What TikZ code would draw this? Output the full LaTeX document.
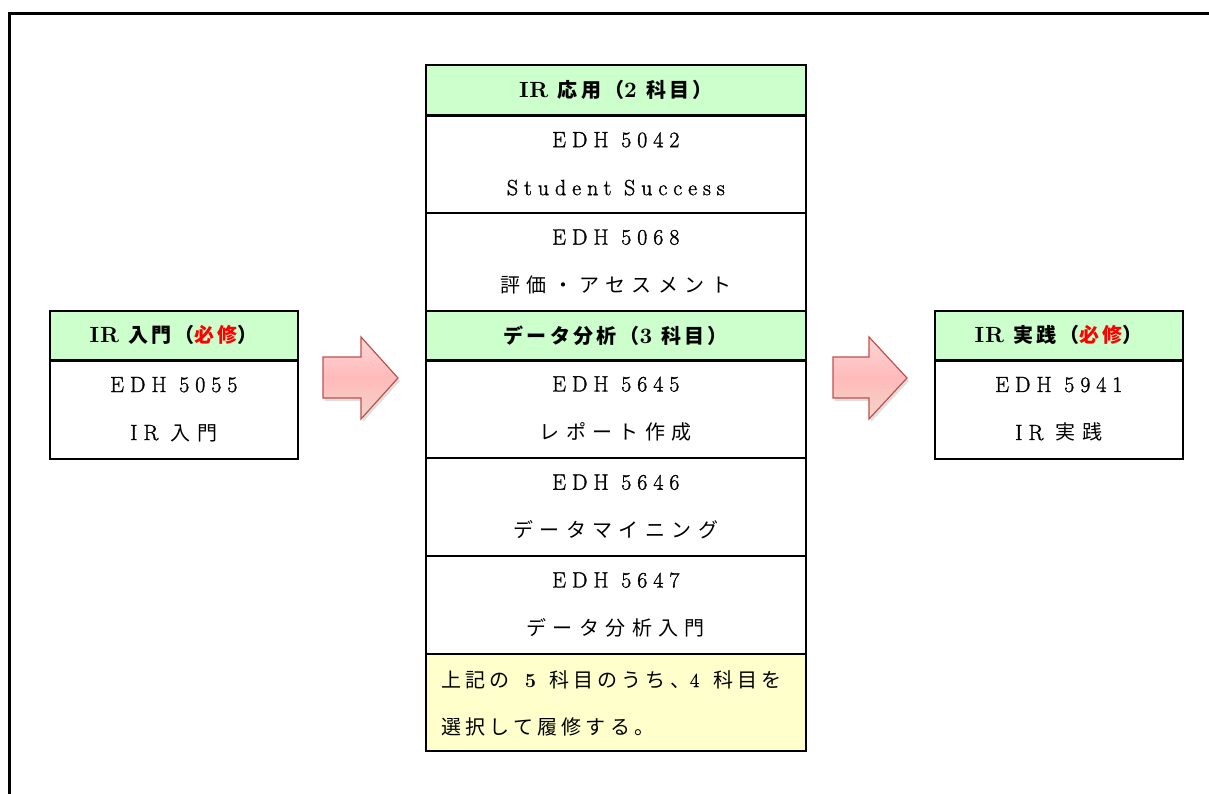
\documentclass[tikz,border=0pt]{standalone}
\usepackage{fontspec}
\setmainfont{Latin Modern Roman}
\newfontfamily\lmc{Latin Modern Roman}[LetterSpace=27,FakeBold=1.5]
\newfontfamily\lmn{Latin Modern Roman}[FakeBold=1.2]
\newfontfamily\lmhb{lmroman10-bold.otf}[LetterSpace=4]
\newfontfamily\jp{Noto Sans CJK JP}[LetterSpace=32]
\newfontfamily\jph{Noto Sans CJK JP}[LetterSpace=16]
\newfontfamily\jpt{Noto Sans CJK JP}[LetterSpace=21]
\usetikzlibrary{shadows}
\definecolor{hdrgreen}{RGB}{204,255,204}
\definecolor{noteyellow}{RGB}{255,255,204}
\definecolor{reqred}{RGB}{255,0,0}
\definecolor{arrowborder}{RGB}{192,80,77}
\definecolor{arrowtop}{RGB}{255,214,214}
\definecolor{arrowmid}{RGB}{255,186,186}
\definecolor{arrowbot}{RGB}{240,214,200}
\newcommand{\hj}[1]{{\jph\fontsize{20}{24}\selectfont #1}}
\newcommand{\cj}[1]{{\jp\fontsize{20}{48}\selectfont #1}}
\begin{document}
\begin{tikzpicture}[x=1pt,y=-1pt,
  cellbox/.style={draw=black, line width=1.6pt, inner sep=0pt, anchor=north west, align=center,
    font=\fontsize{22}{48}\selectfont\lmc},
  hdrbox/.style={cellbox, fill=hdrgreen, font=\fontsize{22}{24}\selectfont\lmhb\bfseries},
  notebox/.style={cellbox, fill=noteyellow},
  notetext/.style={anchor=west, align=left, inner sep=0pt, font=\fontsize{20}{47}\selectfont},
  hdrline/.style={line width=3pt},
  blockarrow/.style={draw=arrowborder, line width=1.2pt, top color=arrowtop, bottom color=arrowbot, middle color=arrowmid,
    drop shadow={shadow xshift=2pt, shadow yshift=-3pt, opacity=0.25}}]
\useasboundingbox (0,0) rectangle (1209,794);
\draw[line width=3pt] (9,800) -- (9,14) -- (1212,14);

% left box
\node[hdrbox, minimum width=248pt, minimum height=49pt] (lh) at (49,310) {IR \hj{入門（\textcolor{reqred}{必修}）}};
\node[cellbox, minimum width=248pt, minimum height=99pt] (lb) at (49,359) {EDH 5055\\IR \cj{入門}};
\draw[hdrline] (lh.south west) -- (lh.south east);

% center column
\node[hdrbox, minimum width=380pt, minimum height=50pt] (ch1) at (425,64) {IR \hj{応用（}2 \hj{科目）}};
\node[cellbox, minimum width=380pt, minimum height=98pt] (c1) at (425,114) {EDH 5042\\Student Success};
\node[cellbox, minimum width=380pt, minimum height=98pt] (c2) at (425,212) {EDH 5068\\\cj{評価・アセスメント}};
\node[hdrbox, minimum width=380pt, minimum height=49pt] (ch2) at (425,310) {\hj{データ分析（}3 \hj{科目）}};
\node[cellbox, minimum width=380pt, minimum height=98pt] (c3) at (425,359) {EDH 5645\\\cj{レポート作成}};
\node[cellbox, minimum width=380pt, minimum height=98pt] (c4) at (425,457) {EDH 5646\\\cj{データマイニング}};
\node[cellbox, minimum width=380pt, minimum height=98pt] (c5) at (425,555) {EDH 5647\\\cj{データ分析入門}};
\node[notebox, minimum width=380pt, minimum height=97pt] (cn) at (425,653) {};
\node[notetext] (cnt) at (441,703) {{\jpt 上記の}\hspace{11pt}\textbf{5}\hspace{13pt}{\jpt 科目のうち、}{\lmn 4}\hspace{14pt}{\jpt 科目を}\\{\jpt 選択して履修する。}};
\draw[hdrline] (ch1.south west) -- (ch1.south east);
\draw[hdrline] (ch2.south west) -- (ch2.south east);

% right box
\node[hdrbox, minimum width=248pt, minimum height=49pt] (rh) at (934,310) {IR \hj{実践（\textcolor{reqred}{必修}）}};
\node[cellbox, minimum width=248pt, minimum height=99pt] (rb) at (934,359) {EDH 5941\\IR \cj{実践}};
\draw[hdrline] (rh.south west) -- (rh.south east);

% block arrows
\path[blockarrow] (323,357) -- (361,357) -- (361,337) -- (398,378) -- (361,419) -- (361,398) -- (323,398) -- cycle;
\path[blockarrow] (833,357) -- (869,357) -- (869,337) -- (907,378) -- (869,419) -- (869,398) -- (833,398) -- cycle;
\end{tikzpicture}
\end{document}
